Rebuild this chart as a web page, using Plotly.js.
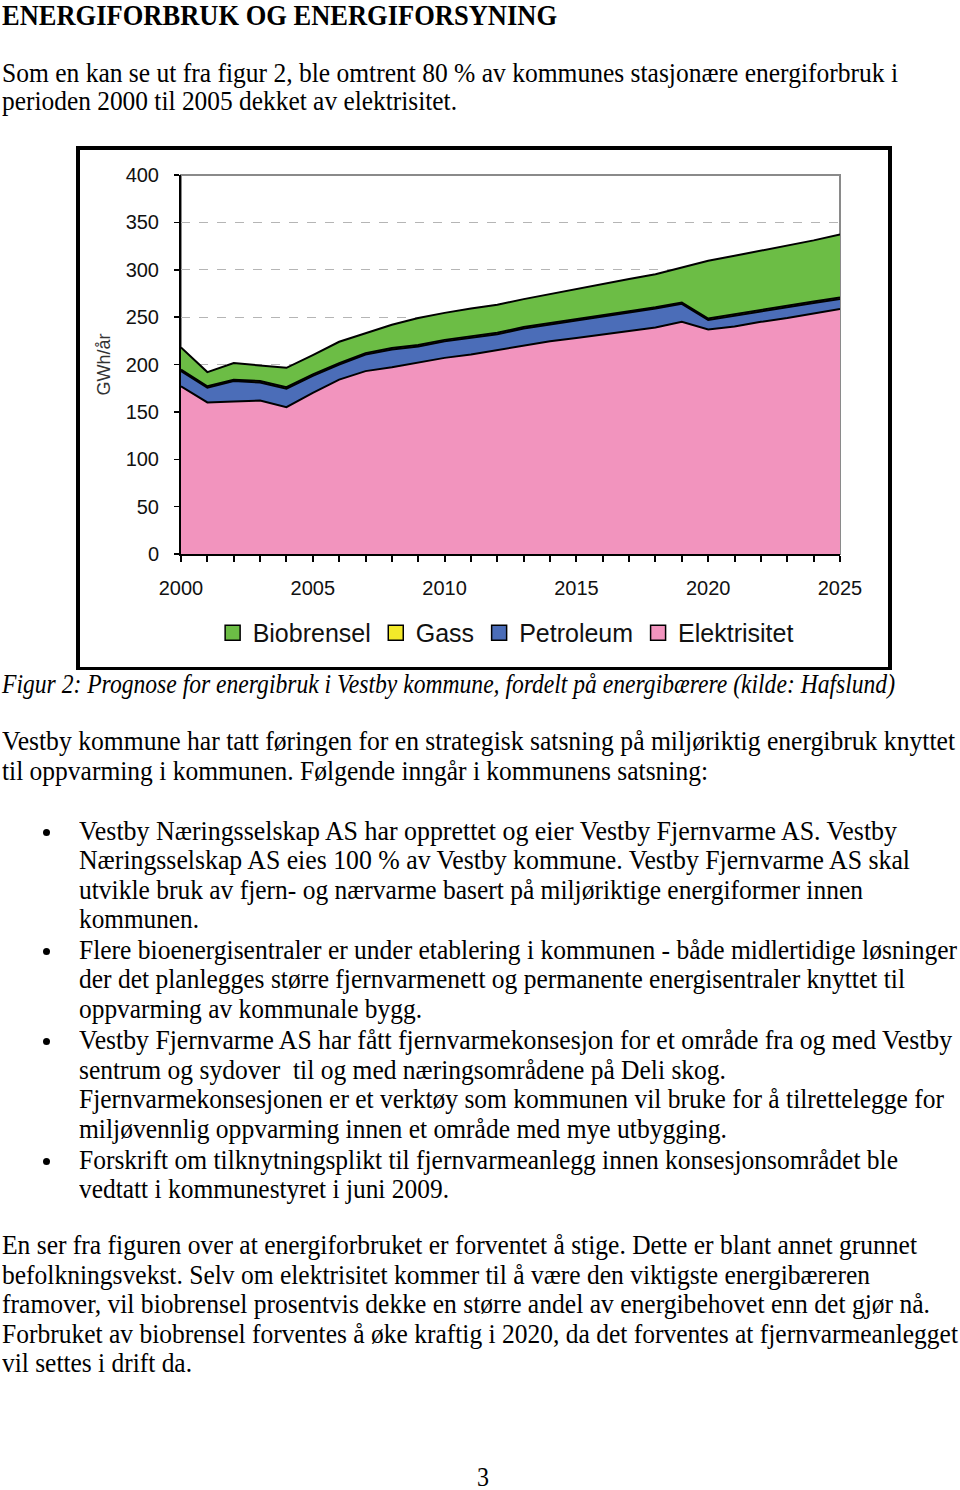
<!DOCTYPE html>
<html><head><meta charset="utf-8">
<script src="https://cdn.plot.ly/plotly-3.0.1.min.js"></script>
<style>
html,body{margin:0;padding:0;background:#fff}
body{width:960px;height:1490px;position:relative;overflow:hidden;font-family:"Liberation Serif","Times New Roman",serif;color:#000}
.ln{position:absolute;white-space:pre;font-size:28px;line-height:28px;transform-origin:0 0}
.h{font-weight:bold;font-size:30px;line-height:30px}
.it{font-style:italic}
.dot{position:absolute;width:7px;height:7px;border-radius:50%;background:#000}
#chart{position:absolute;left:76px;top:146px;width:816px;height:524px;box-sizing:border-box;border:4px solid #000;border-bottom-width:3px;background:#fff}
</style></head><body>
<div id="chart"></div>
<script>
// ---- data ----
const years = [2000,2001,2002,2003,2004,2005,2006,2007,2008,2009,2010,2011,2012,2013,2014,2015,2016,2017,2018,2019,2020,2021,2022,2023,2024,2025];
const elektrisitet = [177,160,161,162,155,170,184,193,197,202,207,210.5,215,220,224.5,228,231.6,235.8,239,245,237,240,245,249,254,258.6];
const petroleum    = [16,15.5,21.5,19,19.5,18,16,17.5,18.8,17,17.5,17.5,17,18,17.5,18,19,19,20,19,10,11.6,11,11.7,11,10.5];
const gass         = [1.5,1.5,1.5,1.5,1.5,1.5,1.5,1.5,1.5,1.5,1.5,1.5,1.5,1.5,1.5,1.5,1.5,1.5,1.5,1.5,1.5,1.5,1.5,1.5,1.5,1.5];
const biobrensel   = [23.5,15,17.5,16.5,20.5,20.5,22.5,21,24.7,28.5,28.5,29.5,29.5,29.5,31,32.5,32.7,34,34.8,36.5,61,61.6,62.5,63.4,64.5,66.5];
const seriesNames  = ["Elektrisitet","Petroleum","Gass","Biobrensel"];
const legendOrder  = ["Biobrensel","Gass","Petroleum","Elektrisitet"];
const yTitle = "GWh/år";

const colors = {Elektrisitet:"#f294be", Petroleum:"#4b6db8", Gass:"#f3e92a", Biobrensel:"#6cbd45"};
const values = {Elektrisitet:elektrisitet, Petroleum:petroleum, Gass:gass, Biobrensel:biobrensel};

const traces = [];
seriesNames.forEach(n=>{
  traces.push({type:"scatter", mode:"lines", x:years, y:values[n], stackgroup:"one",
    line:{color:"#000", width:2}, fillcolor:colors[n], name:n, showlegend:false, hoverinfo:"skip"});
});
// legend entries (square swatches), in reference order
legendOrder.forEach(n=>{
  traces.push({type:"scatter", mode:"markers", x:[null], y:[null], name:n, showlegend:true,
    marker:{symbol:"square", size:15, color:colors[n], line:{color:"#000", width:1.5}}});
});

const layout = {
  width:808, height:517,
  margin:{l:101, r:48, t:25, b:112},
  paper_bgcolor:"#fff", plot_bgcolor:"#fff",
  font:{family:"Liberation Sans, Arial, sans-serif", color:"#111"},
  showlegend:true,
  legend:{orientation:"h", x:0.048, xanchor:"left", y:-0.205, yanchor:"middle",
    font:{size:25, color:"#111"}, traceorder:"normal", bgcolor:"rgba(0,0,0,0)"},
  xaxis:{range:[2000,2025], dtick:5, tick0:2000, ticks:"outside", ticklen:6, tickwidth:2, tickcolor:"#000",
    showline:true, linecolor:"#000", linewidth:2, showgrid:false, zeroline:false,
    tickfont:{size:20, color:"#111"}, ticklabelstandoff:9,
    minor:{dtick:1, ticks:"outside", ticklen:6, tickwidth:2, tickcolor:"#000", showgrid:false}},
  yaxis:{range:[0,400], dtick:50, ticks:"outside", ticklen:5, tickwidth:1.5, tickcolor:"#000",
    showline:true, linecolor:"#000", linewidth:2, zeroline:false,
    showgrid:true, gridcolor:"#b5b5b5", griddash:"dash", gridwidth:1,
    tickfont:{size:20, color:"#111"}, ticklabelstandoff:11,
    title:{text:yTitle, font:{size:18, color:"#333"}, standoff:10}},
  shapes:[{type:"rect", xref:"paper", yref:"paper", x0:0, x1:1, y0:0, y1:1, layer:"below",
    line:{color:"#8a8a8a", width:2}}]
};
Plotly.newPlot("chart", traces, layout, {displayModeBar:false, staticPlot:true});

// ---- page text ----
const lines = [
  ["ENERGIFORBRUK OG ENERGIFORSYNING", 2, 25.5, 557, "h"],
  ["Som en kan se ut fra figur 2, ble omtrent 80 % av kommunes stasjonære energiforbruk i", 2, 82, 898, ""],
  ["perioden 2000 til 2005 dekket av elektrisitet.", 2, 110.5, 457, ""],
  ["Figur 2: Prognose for energibruk i Vestby kommune, fordelt på energibærere (kilde: Hafslund)", 2, 693, 895, "it"],
  ["Vestby kommune har tatt føringen for en strategisk satsning på miljøriktig energibruk knyttet", 2, 750, 955, ""],
  ["til oppvarming i kommunen. Følgende inngår i kommunens satsning:", 2, 780, 708, ""],
  ["Vestby Næringsselskap AS har opprettet og eier Vestby Fjernvarme AS. Vestby", 79, 840, 897, ""],
  ["Næringsselskap AS eies 100 % av Vestby kommune. Vestby Fjernvarme AS skal", 79, 869, 910, ""],
  ["utvikle bruk av fjern- og nærvarme basert på miljøriktige energiformer innen", 79, 899, 863, ""],
  ["kommunen.", 79, 928, 199, ""],
  ["Flere bioenergisentraler er under etablering i kommunen - både midlertidige løsninger", 79, 959, 957, ""],
  ["der det planlegges større fjernvarmenett og permanente energisentraler knyttet til", 79, 988, 905, ""],
  ["oppvarming av kommunale bygg.", 79, 1018, 422, ""],
  ["Vestby Fjernvarme AS har fått fjernvarmekonsesjon for et område fra og med Vestby", 79, 1049, 952, ""],
  ["sentrum og sydover  til og med næringsområdene på Deli skog.", 79, 1079, 726, ""],
  ["Fjernvarmekonsesjonen er et verktøy som kommunen vil bruke for å tilrettelegge for", 79, 1108, 944, ""],
  ["miljøvennlig oppvarming innen et område med mye utbygging.", 79, 1138, 727, ""],
  ["Forskrift om tilknytningsplikt til fjernvarmeanlegg innen konsesjonsområdet ble", 79, 1169, 898, ""],
  ["vedtatt i kommunestyret i juni 2009.", 79, 1198, 449, ""],
  ["En ser fra figuren over at energiforbruket er forventet å stige. Dette er blant annet grunnet", 2, 1254, 917, ""],
  ["befolkningsvekst. Selv om elektrisitet kommer til å være den viktigste energibæreren", 2, 1284, 870, ""],
  ["framover, vil biobrensel prosentvis dekke en større andel av energibehovet enn det gjør nå.", 2, 1313, 930, ""],
  ["Forbruket av biobrensel forventes å øke kraftig i 2020, da det forventes at fjernvarmeanlegget", 2, 1343, 958, ""],
  ["vil settes i drift da.", 2, 1372, 192, ""],
  ["3", 477, 1486, 489, ""]
];
const bullets = [832, 951, 1041, 1161];
const spans = [];
lines.forEach(([t,x,base,xr,cls])=>{
  const s = document.createElement("span");
  s.className = "ln" + (cls ? " " + cls : "");
  s.textContent = t;
  const fs = cls === "h" ? 30 : 28;
  s.style.left = x + "px";
  s.style.top = Math.max(0, base - 0.8375*fs) + "px";
  document.body.appendChild(s);
  spans.push([s, xr - x]);
});
bullets.forEach(y=>{
  const d = document.createElement("div");
  d.className = "dot";
  d.style.left = (46-3.5) + "px";
  d.style.top = (y-3.5) + "px";
  document.body.appendChild(d);
});
function fit(){
  spans.forEach(([s,w])=>{
    s.style.transform = "none";
    const cw = s.getBoundingClientRect().width;
    if (cw > 0) s.style.transform = "scaleX(" + (w/cw) + ")";
  });
}
fit();
if (document.fonts && document.fonts.ready) document.fonts.ready.then(fit);
</script>
</body></html>
